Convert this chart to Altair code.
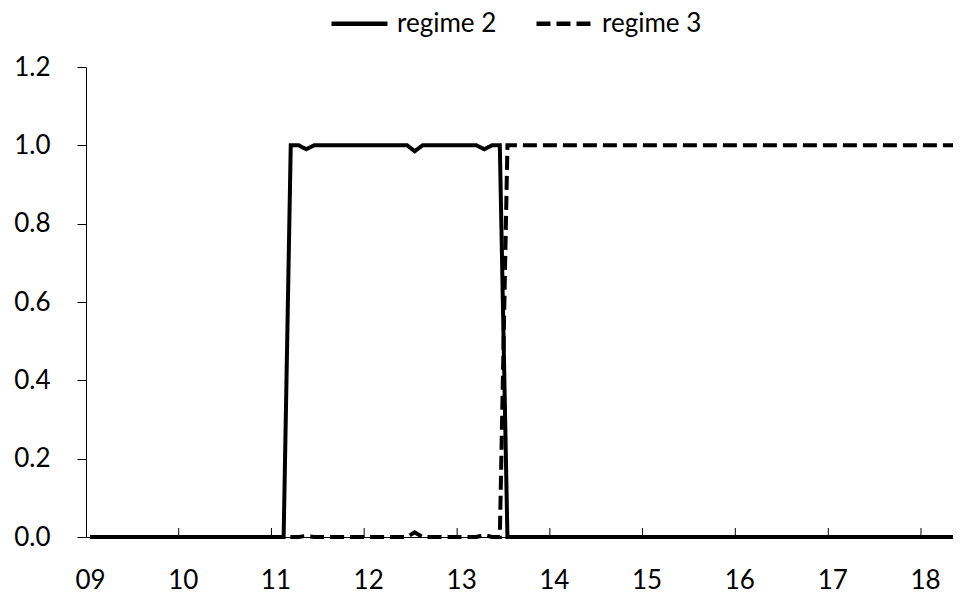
import altair as alt
import pandas as pd

# monthly observations, Jan 2009 .. Jun 2018
dates = [f"{y}-{m:02d}-18T00:00" for y in range(2009, 2019) for m in range(1, 13)][:114]

regime2 = (
    [0, 0, 0, 0, 0, 0, 0, 0, 0, 0, 0, 0] +            # 2009
    [0, 0, 0, 0, 0, 0, 0, 0, 0, 0, 0, 0] +            # 2010
    [0, 0, 1, 1, 0.99, 1, 1, 1, 1, 1, 1, 1] +         # 2011
    [1, 1, 1, 1, 1, 1, 0.985, 1, 1, 1, 1, 1] +        # 2012
    [1, 1, 1, 0.99, 1, 1, 0, 0, 0, 0, 0, 0] +         # 2013
    [0, 0, 0, 0, 0, 0, 0, 0, 0, 0, 0, 0] +            # 2014
    [0, 0, 0, 0, 0, 0, 0, 0, 0, 0, 0, 0] +            # 2015
    [0, 0, 0, 0, 0, 0, 0, 0, 0, 0, 0, 0] +            # 2016
    [0, 0, 0, 0, 0, 0, 0, 0, 0, 0, 0, 0] +            # 2017
    [0, 0, 0, 0, 0, 0]                                # 2018
)
regime3 = (
    [0, 0, 0, 0, 0, 0, 0, 0, 0, 0, 0, 0] +            # 2009
    [0, 0, 0, 0, 0, 0, 0, 0, 0, 0, 0, 0] +            # 2010
    [0, 0, 0, 0, 0.003, 0, 0, 0, 0, 0, 0, 0] +        # 2011
    [0, 0, 0, 0, 0, 0, 0.012, 0, 0, 0, 0, 0] +        # 2012
    [0, 0, 0, 0.005, 0, 0, 1, 1, 1, 1, 1, 1] +        # 2013
    [1, 1, 1, 1, 1, 1, 1, 1, 1, 1, 1, 1] +            # 2014
    [1, 1, 1, 1, 1, 1, 1, 1, 1, 1, 1, 1] +            # 2015
    [1, 1, 1, 1, 1, 1, 1, 1, 1, 1, 1, 1] +            # 2016
    [1, 1, 1, 1, 1, 1, 1, 1, 1, 1, 1, 1] +            # 2017
    [1, 1, 1, 1, 1, 1]                                # 2018
)
series_names = ["regime 2", "regime 3"]
year_ticks = list(range(2009, 2019))
y_ticks = [0, 0.2, 0.4, 0.6, 0.8, 1.0, 1.2]

rows = []
for d, a, b in zip(dates, regime2, regime3):
    rows.append({"date": d, "series": series_names[0], "value": a})
    rows.append({"date": d, "series": series_names[1], "value": b})
df = pd.DataFrame(rows)
ticks_df = pd.DataFrame({"date": [f"{y}-01-01T00:00" for y in year_ticks[1:]]})

W, H = 867, 470
FONT = "Lato"

# the visible window of the original ends a little before the last observation
x_scale = alt.Scale(domain=[alt.DateTime(year=2009, month=1, date=1),
                            alt.DateTime(year=2018, month=5, date=7)])

lines = alt.Chart(df).mark_line(strokeWidth=4, color="black", strokeJoin="miter",
                                strokeCap="butt").encode(
    x=alt.X("date:T", scale=x_scale, title=None,
            axis=alt.Axis(values=[alt.DateTime(year=y, month=1, date=1) for y in year_ticks],
                          format="%y", ticks=False, tickSize=0, labelPadding=30, labelFlush=False,
                          labelOverlap=False, labelOffset=4, grid=False)),
    y=alt.Y("value:Q", scale=alt.Scale(domain=[0, 1.2], nice=False), title=None,
            axis=alt.Axis(values=y_ticks, format=".1f", tickSize=9, labelPadding=27, grid=False)),
    strokeDash=alt.StrokeDash("series:N",
                              scale=alt.Scale(domain=series_names, range=[[1, 0], [14, 6]]),
                              legend=alt.Legend(title=None, orient="none", direction="horizontal",
                                                legendX=243, legendY=-74, padding=0,
                                                symbolType="stroke", symbolSize=3136,
                                                symbolStrokeWidth=4.5, symbolStrokeColor="black",
                                                labelOffset=7, columnPadding=30,
                                                labelFontSize=26, labelFont=FONT, labelColor="black")),
    order=alt.Order("date:T"),
)

xticks = alt.Chart(ticks_df).mark_rule(color="black", strokeWidth=1).encode(
    x=alt.X("date:T", scale=x_scale),
    y=alt.value(H),
    y2=alt.value(H - 9),
)

chart = alt.layer(xticks, lines).properties(
    width=W, height=H,
    autosize=alt.AutoSizeParams(type="none"),
    padding={"left": 78, "top": 59, "right": 0, "bottom": 54},
).configure_view(stroke=None).configure_axis(
    domainColor="black", domainWidth=1, tickColor="black", tickWidth=1,
    labelFont=FONT, labelFontSize=26, labelColor="black",
)

chart.save("out.html", embed_options={"renderer": "svg", "actions": False})
